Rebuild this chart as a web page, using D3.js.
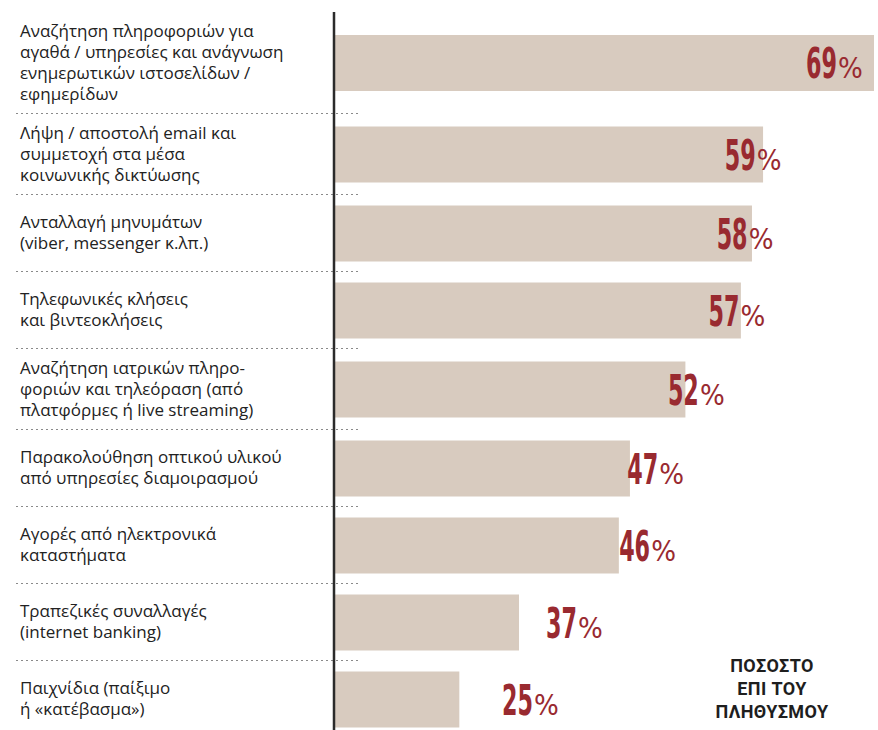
<!DOCTYPE html>
<html>
<head>
<meta charset="utf-8">
<script src="https://cdn.jsdelivr.net/npm/d3@7"></script>
<style>
  body { margin: 0; background: #fff; }
</style>
</head>
<body>
<div id="chart"></div>
<script>
// data
var categories = [
  ["Αναζήτηση πληροφοριών για", "αγαθά / υπηρεσίες και ανάγνωση", "ενημερωτικών ιστοσελίδων /", "εφημερίδων"],
  ["Λήψη / αποστολή email και", "συμμετοχή στα μέσα", "κοινωνικής δικτύωσης"],
  ["Ανταλλαγή μηνυμάτων", "(viber, messenger κ.λπ.)"],
  ["Τηλεφωνικές κλήσεις", "και βιντεοκλήσεις"],
  ["Αναζήτηση ιατρικών πληρο-", "φοριών και τηλεόραση (από", "πλατφόρμες ή live streaming)"],
  ["Παρακολούθηση οπτικού υλικού", "από υπηρεσίες διαμοιρασμού"],
  ["Αγορές από ηλεκτρονικά", "καταστήματα"],
  ["Τραπεζικές συναλλαγές", "(internet banking)"],
  ["Παιχνίδια (παίξιμο", "ή «κατέβασμα»)"]
];
var values = [69, 59, 58, 57, 52, 47, 46, 37, 25];
var legendLines = ["ΠΟΣΟΣΤΟ", "ΕΠΙ ΤΟΥ", "ΠΛΗΘΥΣΜΟΥ"];

var width = 878, height = 730;
var axisX = 335, top0 = 11, lineH = 21, barH = 56;

var svg = d3.select("#chart").append("svg")
    .attr("width", width)
    .attr("height", height);

// row heights depend on number of text lines
var rows = [];
var yy = top0;
categories.forEach(function(c, i) {
  var h = Math.max(77, c.length * lineH + 18);
  rows.push({lines: c, value: values[i], y0: yy, y1: yy + h, mid: yy + h / 2});
  yy += h;
});

// bars are not drawn to a strict zero based scale in the original
var x = d3.scaleLinear()
    .domain([0, 37, 69])
    .range([0, 184, 539]);

var labelX = d3.scaleLinear()
    .domain([25, 37, 69])
    .range([502, 546, 806]);

// dotted separators
svg.append("g")
  .selectAll("line")
  .data(rows.slice(0, rows.length - 1))
  .enter()
  .append("line")
    .attr("x1", 16)
    .attr("x2", 358)
    .attr("y1", function(d) { return d.y1 + 0.5; })
    .attr("y2", function(d) { return d.y1 + 0.5; })
    .style("stroke", "#8a8a8a")
    .style("stroke-width", 1.2)
    .style("stroke-dasharray", "2,3");

// bars
svg.append("g")
  .selectAll("rect")
  .data(rows)
  .enter()
  .append("rect")
    .attr("x", axisX)
    .attr("y", function(d) { return d.mid - barH / 2 + 1; })
    .attr("width", function(d) { return x(d.value); })
    .attr("height", barH)
    .style("fill", "#d8cbbf");

// axis line
svg.append("line")
    .attr("x1", axisX - 1)
    .attr("x2", axisX - 1)
    .attr("y1", 12)
    .attr("y2", height)
    .style("stroke", "#2b2b2b")
    .style("stroke-width", 2.5);

// category labels
var cat = svg.append("g")
  .selectAll("text")
  .data(rows)
  .enter()
  .append("text")
    .attr("font-family", "'Open Sans', Roboto, sans-serif")
    .attr("font-weight", 400)
    .attr("font-size", "17px")
    .style("fill", "#222");
cat.selectAll("tspan")
  .data(function(d) {
    var first = d.mid - (d.lines.length - 1) * lineH / 2 + 6;
    return d.lines.map(function(t, j) { return {t: t, y: first + j * lineH}; });
  })
  .enter()
  .append("tspan")
    .attr("x", 20)
    .attr("y", function(d) { return d.y; })
    .text(function(d) { return d.t; });

// value labels: condensed number + percent sign
var labels = svg.append("g");
var numG = labels.selectAll("g.num")
  .data(rows)
  .enter()
  .append("g")
    .attr("class", "num");
numG.append("text")
    .attr("font-family", "'DejaVu Sans Condensed', 'Liberation Sans Narrow', sans-serif")
    .attr("font-size", "42px")
    .attr("font-weight", "bold")
    .style("fill", "#992a30")
    .text(function(d) { return d.value; });
numG.attr("transform", function(d) {
  var w = this.querySelector("text").getComputedTextLength();
  return "translate(" + labelX(d.value) + "," + (d.mid + 16) + ") scale(" + (31 / w) + ",1)";
});
labels.selectAll("text.pct")
  .data(rows)
  .enter()
  .append("text")
    .attr("class", "pct")
    .attr("x", function(d) { return labelX(d.value) + 32; })
    .attr("y", function(d) { return d.mid + 16; })
    .attr("font-family", "'DejaVu Sans Condensed', 'Liberation Sans Narrow', sans-serif")
    .attr("font-size", "29px")
    .style("fill", "#992a30")
    .text("%");

// legend
svg.append("g")
  .selectAll("text")
  .data(legendLines)
  .enter()
  .append("text")
    .attr("x", 772)
    .attr("y", function(d, i) { return 672 + i * 23; })
    .attr("text-anchor", "middle")
    .attr("font-family", "Roboto, sans-serif")
    .attr("font-weight", "bold")
    .attr("font-size", "18px")
    .attr("letter-spacing", "0.4px")
    .style("fill", "#1e1e1e")
    .text(function(d) { return d; });
</script>
</body>
</html>
